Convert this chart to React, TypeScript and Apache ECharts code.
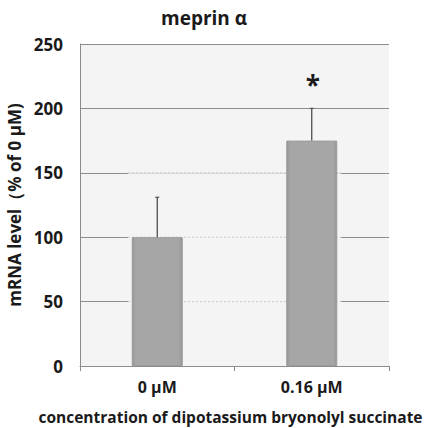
import React, { useEffect, useRef } from "react";
import * as echarts from "echarts";

const categories = ["0 μM", "0.16 μM"];
const meanValues = [100, 175];
const errorUpper = [131, 200];
const significance = ["", "*"];
const dottedGridValues = [50, 100, 150];

const FONT = "'Open Sans', 'Noto Sans', sans-serif";
const TEXT = "#1a1a1a";

export default function App() {
  const ref = useRef<HTMLDivElement>(null);
  useEffect(() => {
    if (!ref.current) return;
    const chart = echarts.init(ref.current, null, { renderer: "svg" });
    const barWidth = 51;
    chart.setOption({
      animation: false,
      backgroundColor: "#ffffff",
      textStyle: { fontFamily: FONT },
      title: {
        text: "meprin α",
        left: 156,
        top: 3,
        textStyle: { fontFamily: FONT, fontSize: 19, fontWeight: "bold", color: TEXT },
      },
      grid: {
        left: 80,
        width: 309,
        top: 44,
        height: 322,
        outerBoundsMode: "none",
        containLabel: false,
        show: true,
        backgroundColor: "#f4f4f4",
        borderWidth: 0,
      },
      xAxis: {
        type: "category",
        data: categories,
        axisLine: { show: true, lineStyle: { color: "#8c8c8c", width: 1 } },
        axisTick: { show: true, alignWithLabel: false, length: 5, lineStyle: { color: "#8c8c8c" } },
        axisLabel: { fontFamily: FONT, fontSize: 16, fontWeight: "bold", color: TEXT, margin: 13 },
        name: "concentration of dipotassium bryonolyl succinate",
        nameLocation: "middle",
        nameGap: 43,
        nameTextStyle: {
          fontFamily: FONT,
          fontSize: 15.5,
          fontWeight: "bold",
          color: TEXT,
          padding: [0, 8, 0, 0],
        },
      },
      yAxis: {
        type: "value",
        min: 0,
        max: 250,
        interval: 50,
        axisLine: { show: true, lineStyle: { color: "#8c8c8c", width: 1 } },
        axisTick: { show: false },
        splitLine: { show: true, lineStyle: { color: "#8c8c8c", width: 1 } },
        axisLabel: { fontFamily: FONT, fontSize: 17, fontWeight: "bold", color: TEXT, margin: 17 },
        name: "mRNA level（% of 0 μM)",
        nameLocation: "middle",
        nameGap: 54,
        nameTextStyle: { fontFamily: FONT, fontSize: 17, fontWeight: "bold", color: TEXT },
      },
      series: [
        {
          type: "custom",
          z: 1,
          silent: true,
          data: dottedGridValues.map((v) => [v]),
          renderItem: (params: any, api: any) => {
            const v = api.value(0);
            const band = api.size([1, 0])[0];
            const off = barWidth / 2 + band * 0.025;
            const p0 = api.coord([0, v]);
            const p1 = api.coord([categories.length - 1, v]);
            const x0 = p0[0] - off;
            const x1 = p1[0] + off;
            return {
              type: "group",
              children: [
                {
                  type: "line",
                  shape: { x1: x0, y1: p0[1], x2: x1, y2: p0[1] },
                  style: { stroke: "#f4f4f4", lineWidth: 2 },
                },
                {
                  type: "line",
                  shape: { x1: x0, y1: p0[1], x2: x1, y2: p0[1] },
                  style: { stroke: "#c8c8c8", lineWidth: 1, lineDash: [2, 2] },
                },
              ],
            };
          },
        },
        {
          type: "bar",
          z: 2,
          data: meanValues,
          barWidth: barWidth,
          itemStyle: {
            color: new echarts.graphic.LinearGradient(0, 0, 1, 0, [
              { offset: 0, color: "#969696" },
              { offset: 0.07, color: "#a6a6a6" },
              { offset: 0.93, color: "#a6a6a6" },
              { offset: 1, color: "#969696" },
            ]),
            borderColor: "#9a9a9a",
            borderWidth: 1,
          },
        },
        {
          type: "custom",
          z: 3,
          silent: true,
          data: categories.map((c, i) => [i, meanValues[i], errorUpper[i], significance[i]]),
          renderItem: (params: any, api: any) => {
            const i = api.value(0);
            const top = api.coord([i, api.value(1)]);
            const hi = api.coord([i, api.value(2)]);
            const sig = significance[params.dataIndex];
            const children: any[] = [
              {
                type: "line",
                shape: { x1: top[0], y1: top[1], x2: hi[0], y2: hi[1] },
                style: { stroke: "#404040", lineWidth: 1.2 },
              },
              {
                type: "line",
                shape: { x1: hi[0] - 2, y1: hi[1], x2: hi[0] + 2, y2: hi[1] },
                style: { stroke: "#505050", lineWidth: 1.2 },
              },
            ];
            if (sig) {
              children.push({
                type: "text",
                x: hi[0] + 1,
                y: hi[1] - 23,
                style: {
                  text: sig,
                  fontFamily: FONT,
                  fontSize: 26,
                  fontWeight: "bold",
                  fill: TEXT,
                  align: "center",
                  verticalAlign: "middle",
                },
              });
            }
            return { type: "group", children };
          },
        },
      ],
    });
    return () => chart.dispose();
  }, []);
  return <div ref={ref} style={{ width: 424, height: 428, position: "absolute", left: 0, top: 0 }} />;
}
